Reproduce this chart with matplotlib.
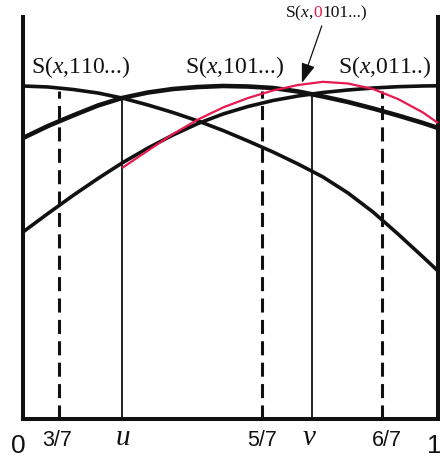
import matplotlib
matplotlib.use("Agg")
import matplotlib.pyplot as plt
from matplotlib.offsetbox import TextArea, HPacker, AnnotationBbox

plt.rcParams['mathtext.fontset'] = 'custom'
plt.rcParams['mathtext.rm'] = 'Liberation Serif'
plt.rcParams['mathtext.it'] = 'Liberation Serif:italic'

# ---- data (normalised: x from 0 to 1 across the box, y from 0 at bottom) ----
x_grid = [0.0, 0.0602, 0.1205, 0.1807, 0.2386, 0.3012, 0.3614, 0.4217, 0.4819,
          0.5422, 0.6024, 0.6627, 0.7229, 0.7831, 0.8434, 0.9036, 0.9639, 1.0]
s_110 = [0.8284, 0.8259, 0.8197, 0.8109, 0.7985, 0.7811, 0.7624, 0.7413, 0.7177,
         0.6915, 0.6642, 0.6343, 0.6020, 0.5622, 0.5149, 0.4602, 0.4030, 0.3682]
s_101 = [0.6990, 0.7289, 0.7550, 0.7799, 0.7985, 0.8122, 0.8209, 0.8259, 0.8284,
         0.8271, 0.8234, 0.8147, 0.8022, 0.7886, 0.7724, 0.7550, 0.7363, 0.7239]
s_011 = [0.4652, 0.5112, 0.5560, 0.5983, 0.6368, 0.6741, 0.7065, 0.7351, 0.7587,
         0.7774, 0.7923, 0.8035, 0.8122, 0.8184, 0.8234, 0.8266, 0.8284, 0.8289]

x_red = [0.2386, 0.3012, 0.3614, 0.4217, 0.4819, 0.5422, 0.6024, 0.6627, 0.7229,
         0.7831, 0.8434, 0.9036, 0.9639, 1.0]
s_0101 = [0.6244, 0.6679, 0.7090, 0.7450, 0.7749, 0.7985, 0.8172, 0.8308, 0.8388,
          0.8346, 0.8209, 0.7960, 0.7624, 0.7363]

# vertical markers
dashed_x = [0.087, 0.576, 0.865]
dashed_top = [0.816, 0.816, 0.816]
solid_x = [0.239, 0.696]
solid_top = [0.7985, 0.808]

# bottom labels
tick_labels = ['3/7', 'u', '5/7', 'v', '6/7']
tick_pos = [0.083, 0.240, 0.577, 0.690, 0.878]
end_labels = ['0', '1']
end_pos = [-0.011, 0.990]

curve_labels = [r'S($x$,110...)', r'S($x$,101...)', r'S($x$,011..)']
curve_label_x = [0.140, 0.511, 0.872]

RED = '#e8194f'
INK = '#111111'

fig = plt.figure(figsize=(4.4, 4.6), dpi=100)
ax = fig.add_axes([23/440, 40/460, 415/440, 402/460])
ax.set_xlim(0, 1)
ax.set_ylim(0, 1)
ax.set_xticks([])
ax.set_yticks([])
ax.patch.set_alpha(0)
ax.spines['top'].set_visible(False)
for s in ['left', 'right', 'bottom']:
    ax.spines[s].set_linewidth(2.9)
    ax.spines[s].set_color(INK)
    ax.spines[s].set_capstyle('projecting')

# vertical lines
for x, t in zip(dashed_x, dashed_top):
    ax.plot([x, x], [0, t], color=INK, lw=2.2, linestyle=(0, (4.6, 2.4)),
            dash_capstyle='butt', zorder=1)
for x, t in zip(solid_x, solid_top):
    ax.plot([x, x], [0, t], color='#222222', lw=1.4, zorder=1)

# curves
line_kw = dict(solid_capstyle='butt', solid_joinstyle='round', clip_on=False)
ax.plot(x_grid, s_110, color=INK, lw=2.6, zorder=2, **line_kw)
ax.plot(x_grid, s_011, color=INK, lw=2.6, zorder=2, **line_kw)
ax.plot(x_grid, s_101, color=INK, lw=3.3, zorder=2, **line_kw)
ax.plot(x_red, s_0101, color=RED, lw=1.6, zorder=3, **line_kw)

# curve labels
for lab, x in zip(curve_labels, curve_label_x):
    ax.text(x, 0.878, lab, ha='center', va='center', fontsize=17,
            family='Liberation Serif', color=INK)

# red label with coloured 0
kw = dict(family='Liberation Serif', fontsize=12.5)
parts = HPacker(children=[
    TextArea(r'S($x$,', textprops=dict(color=INK, **kw)),
    TextArea('0', textprops=dict(color=RED, **kw)),
    TextArea('101...)', textprops=dict(color=INK, **kw)),
], sep=0, pad=0, align='baseline')
ab = AnnotationBbox(parts, (0.730, 1.012), xycoords='data', frameon=False,
                    box_alignment=(0.5, 0.5), annotation_clip=False)
ax.add_artist(ab)
ax.annotate('', xy=(0.672, 0.836), xytext=(0.720, 0.978), xycoords='data',
            annotation_clip=False,
            arrowprops=dict(arrowstyle='-|>,head_length=1.0,head_width=0.35',
                            mutation_scale=12, color=INK, lw=0.9,
                            shrinkA=0, shrinkB=0))

# bottom labels
for lab, x in zip(tick_labels, tick_pos):
    if lab in ('u', 'v'):
        ax.text(x, -0.062, lab, ha='center', va='baseline', fontsize=21,
                family='Liberation Serif', style='italic', color=INK)
    else:
        ax.text(x, -0.065, lab, ha='center', va='baseline', fontsize=15.5,
                family='Liberation Sans', color=INK)
for lab, x in zip(end_labels, end_pos):
    ax.text(x, -0.082, lab, ha='center', va='baseline', fontsize=19,
            family='Liberation Sans', color=INK)

fig.savefig('out.png', dpi=100)
